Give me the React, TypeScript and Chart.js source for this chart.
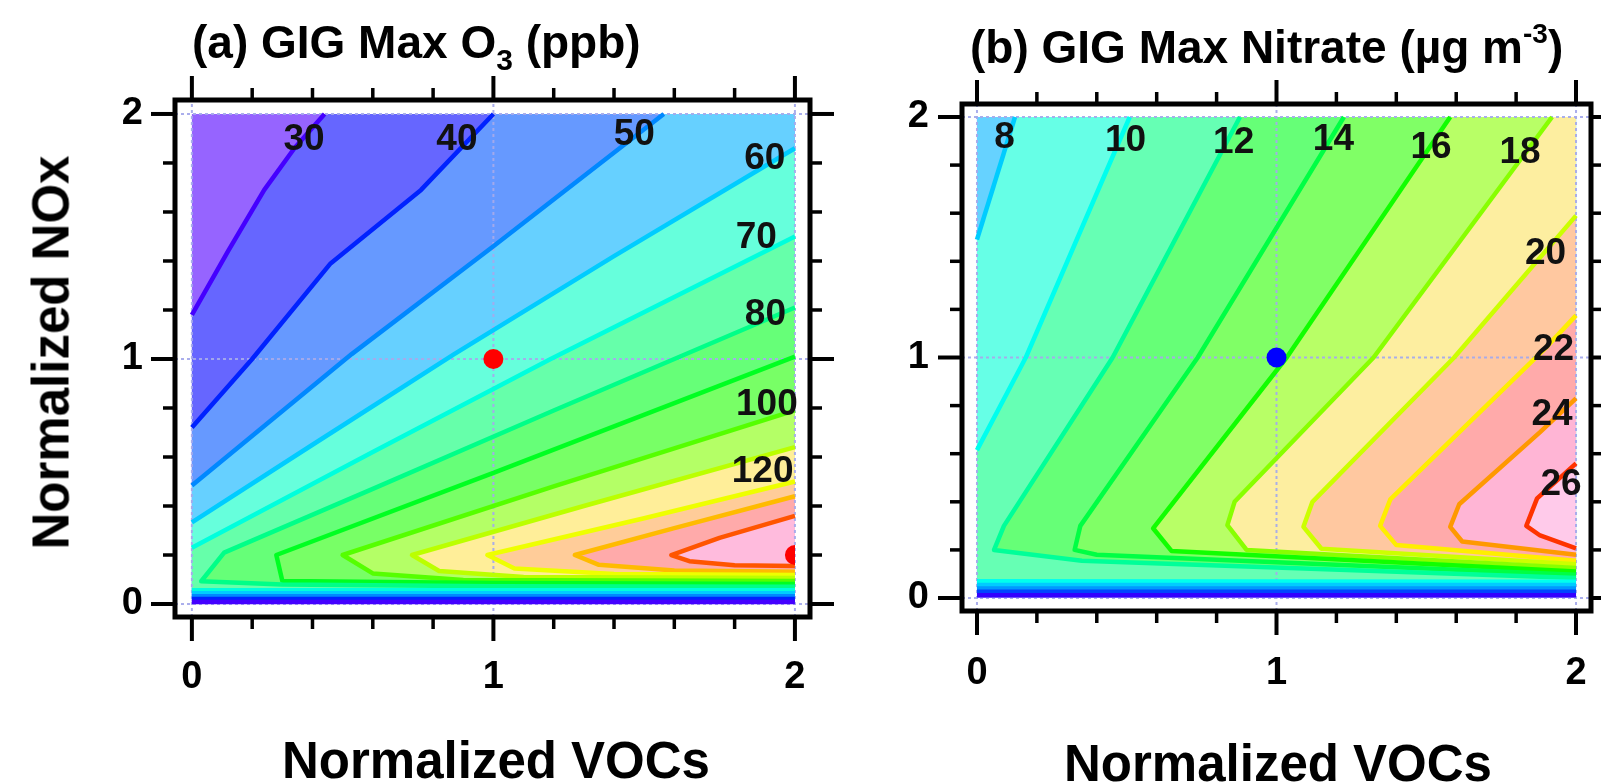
import React, { useEffect, useRef } from 'react';
import { Chart, registerables } from 'chart.js';

Chart.register(...registerables);

type P = [number, number];

const FONT = "'Liberation Sans', Arial, Helvetica, sans-serif";

// ---------- shared axis values ----------
const MAJOR_TICKS = [0, 1, 2];
const MINOR_TICKS = [0.2, 0.4, 0.6, 0.8, 1.2, 1.4, 1.6, 1.8];
const DATA_X: P = [0, 2];
const DATA_Y: P = [0, 2];
const GRID_COLOR = 'rgba(165,170,235,0.95)';

// ---------- panel (a): GIG max O3 ----------
const O3_X_RANGE: P = [-0.056, 2.05];
const O3_Y_RANGE: P = [-0.053, 2.057];
const O3_LEVELS = [30, 40, 50, 60, 70, 80, 90, 100, 110, 120, 130, 140];
const O3_LINE_COLORS = ['#4400ff', '#0022ff', '#0088ff', '#00ccff', '#00ffdd', '#00ff88', '#00ff22', '#55ff00', '#bbff00', '#eeff00', '#ffbb00', '#ff5500'];
const O3_BASE_FILL = '#9664ff';
const O3_FILL_COLORS = ['#6666ff', '#6699ff', '#66d0ff', '#66ffdc', '#66ffaa', '#66ff78', '#78ff66', '#b4ff66', '#ffee99', '#ffcc99', '#ffaaaa', '#ffbbdd'];
const O3_30: P[][] = [[[0, 1.18], [0.12, 1.44], [0.24, 1.69], [0.34, 1.86], [0.44, 2]], [[2, 0.008], [0, 0.008]]];
const O3_40: P[][] = [[[0, 0.72], [0.2, 1.0], [0.46, 1.39], [0.76, 1.69], [1.0, 2]], [[2, 0.02], [0, 0.02]]];
const O3_50: P[][] = [[[0, 0.484], [0.53, 1.02], [1.0, 1.46], [1.565, 2]], [[2, 0.032], [0, 0.032]]];
const O3_60: P[][] = [[[0, 0.333], [0.4, 0.65], [0.87, 1.02], [1.4, 1.42], [2, 1.86]], [[2, 0.044], [0, 0.044]]];
const O3_70: P[][] = [[[0, 0.23], [0.6, 0.62], [1.19, 1.0], [2, 1.5]], [[2, 0.056], [0, 0.056]]];
const O3_80: P[][] = [[[2, 0.07], [1.0, 0.073], [0.3, 0.08], [0.031, 0.093], [0.107, 0.21], [0.6, 0.47], [1.2, 0.79], [2, 1.21]]];
const O3_90: P[][] = [[[2, 0.082], [1.0, 0.086], [0.3, 0.094], [0.28, 0.2], [1.0, 0.535], [2, 1.01]]];
const O3_100: P[][] = [[[2, 0.094], [0.9, 0.098], [0.6, 0.125], [0.5, 0.2], [1.2, 0.48], [2, 0.79]]];
const O3_110: P[][] = [[[2, 0.106], [1.1, 0.11], [0.82, 0.135], [0.73, 0.2], [1.3, 0.4], [2, 0.64]]];
const O3_120: P[][] = [[[2, 0.118], [1.4, 0.122], [1.07, 0.145], [0.98, 0.2], [1.5, 0.35], [2, 0.5]]];
const O3_130: P[][] = [[[2, 0.132], [1.6, 0.137], [1.35, 0.16], [1.27, 0.2], [1.6, 0.31], [2, 0.44]]];
const O3_140: P[][] = [[[2, 0.155], [1.8, 0.158], [1.65, 0.175], [1.59, 0.2], [1.75, 0.27], [2, 0.36]]];
const O3_CONTOURS = [O3_30, O3_40, O3_50, O3_60, O3_70, O3_80, O3_90, O3_100, O3_110, O3_120, O3_130, O3_140];
const O3_LABEL_TEXT = ['30', '40', '50', '60', '70', '80', '100', '120'];
const O3_LABEL_X = [0.372, 0.879, 1.467, 1.9, 1.872, 1.902, 1.907, 1.893];
const O3_LABEL_Y = [1.896, 1.896, 1.914, 1.818, 1.496, 1.181, 0.812, 0.538];
const O3_DOT_X = [1];
const O3_DOT_Y = [1];
const O3_PEAK_X = [2];
const O3_PEAK_Y = [0.2];

// ---------- panel (b): GIG max nitrate ----------
const NO3_X_RANGE: P = [-0.05, 2.05];
const NO3_Y_RANGE: P = [-0.054, 2.054];
const NO3_LEVELS = [2, 4, 6, 8, 10, 12, 14, 16, 18, 20, 22, 24, 26];
const NO3_LINE_COLORS = ['#3300ff', '#0044ff', '#0099ff', '#00ccff', '#00ffee', '#00ff99', '#00ff44', '#11ff00', '#88ff00', '#ccff00', '#ffee00', '#ff9900', '#ff3300'];
const NO3_BASE_FILL = '#aa99ff';
const NO3_FILL_COLORS = ['#6677ff', '#6699ff', '#66d2ff', '#66ffe6', '#66ffb4', '#66ff77', '#80ff66', '#b8ff66', '#fdeea0', '#ffc8a0', '#ffaaaa', '#ffb5d5', '#ffcaea'];
const NO3_2: P[][] = [[[2, 0.012], [0, 0.012]]];
const NO3_4: P[][] = [[[2, 0.026], [0, 0.026]]];
const NO3_6: P[][] = [[[2, 0.04], [0, 0.04]]];
const NO3_8: P[][] = [[[0, 1.49], [0.127, 2]], [[2, 0.054], [0, 0.054]]];
const NO3_10: P[][] = [[[0, 0.615], [0.163, 1.0], [0.51, 2]], [[2, 0.068], [0, 0.07]]];
const NO3_12: P[][] = [[[2, 0.083], [0.35, 0.155], [0.057, 0.2], [0.09, 0.3], [0.453, 1.0], [0.878, 2]]];
const NO3_14: P[][] = [[[2, 0.097], [0.4, 0.18], [0.326, 0.2], [0.345, 0.3], [0.737, 1.0], [1.225, 2]]];
const NO3_16: P[][] = [[[2, 0.11], [0.65, 0.195], [0.588, 0.29], [1.034, 1.0], [1.58, 2]]];
const NO3_18: P[][] = [[[2, 0.125], [0.9, 0.2], [0.836, 0.303], [0.86, 0.4], [1.324, 1.0], [1.92, 2]]];
const NO3_20: P[][] = [[[2, 0.14], [1.15, 0.205], [1.09, 0.296], [1.12, 0.4], [1.593, 1.0], [2, 1.59]]];
const NO3_22: P[][] = [[[2, 0.155], [1.4, 0.22], [1.346, 0.3], [1.38, 0.41], [1.898, 1.039], [2, 1.175]]];
const NO3_24: P[][] = [[[2, 0.18], [1.62, 0.235], [1.58, 0.296], [1.61, 0.39], [1.88, 0.69], [2, 0.83]]];
const NO3_26: P[][] = [[[2, 0.206], [1.88, 0.26], [1.834, 0.3], [1.87, 0.414], [2, 0.56]]];
const NO3_CONTOURS = [NO3_2, NO3_4, NO3_6, NO3_8, NO3_10, NO3_12, NO3_14, NO3_16, NO3_18, NO3_20, NO3_22, NO3_24, NO3_26];
const NO3_LABEL_TEXT = ['8', '10', '12', '14', '16', '18', '20', '22', '24', '26'];
const NO3_LABEL_X = [0.092, 0.496, 0.857, 1.19, 1.516, 1.813, 1.898, 1.925, 1.92, 1.95];
const NO3_LABEL_Y = [1.914, 1.9, 1.893, 1.907, 1.872, 1.851, 1.432, 1.03, 0.76, 0.47];
const NO3_DOT_X = [1];
const NO3_DOT_Y = [1];

// closes a contour (made of one or more boundary-to-boundary parts) clockwise along the data box
function ring(parts: P[][]): P[] {
  const [x0, x1] = DATA_X;
  const [y0, y1] = DATA_Y;
  const W = x1 - x0, H = y1 - y0, PER = 2 * (W + H), e = 1e-9;
  const t = ([x, y]: P) =>
    Math.abs(y - y1) < e ? x - x0 :
    Math.abs(x - x1) < e ? W + (y1 - y) :
    Math.abs(y - y0) < e ? W + H + (x1 - x) :
    2 * W + H + (y - y0);
  const corners: [number, P][] = [[0, [x0, y1]], [W, [x1, y1]], [W + H, [x1, y0]], [2 * W + H, [x0, y0]]];
  const walk = (a: P, b: P): P[] => {
    const ta = t(a);
    let tb = t(b);
    if (tb <= ta) tb += PER;
    const out: P[] = [];
    for (let k = 0; k < 2; k++) {
      for (const [tc, pc] of corners) {
        const tt = tc + k * PER;
        if (tt > ta + e && tt < tb - e) out.push(pc);
      }
    }
    return out;
  };
  const out: P[] = [];
  parts.forEach((part, i) => {
    out.push(...part);
    const next = parts[(i + 1) % parts.length];
    out.push(...walk(part[part.length - 1], next[0]));
  });
  return out;
}

const xy = (a: P[]) => a.map(([x, y]) => ({ x, y }));

interface PanelSpec {
  canvasW: number;
  area: { left: number; top: number; right: number; bottom: number };
  xRange: P;
  yRange: P;
  levels: number[];
  contours: P[][][];
  lineColors: string[];
  fillColors: string[];
  baseFill: string;
  labelText: string[];
  labelX: number[];
  labelY: number[];
  dotColor: string;
  dotX: number[];
  dotY: number[];
  peakX: number[];
  peakY: number[];
  xPad: number;
  yPad: number;
}

function makeConfig(p: PanelSpec): any {
  const ds: any[] = [];
  const base = { borderWidth: 0, pointRadius: 0, pointHoverRadius: 0, fill: 'shape' };
  ds.push({
    ...base,
    data: xy([[DATA_X[0], DATA_Y[0]], [DATA_X[1], DATA_Y[0]], [DATA_X[1], DATA_Y[1]], [DATA_X[0], DATA_Y[1]]]),
    backgroundColor: p.baseFill,
    order: 1000,
  });
  p.contours.forEach((c, i) => {
    ds.push({ ...base, label: 'fill ' + p.levels[i], data: xy(ring(c)), backgroundColor: p.fillColors[i], order: 900 - i });
  });
  MAJOR_TICKS.forEach((v) => {
    const g = { borderColor: GRID_COLOR, borderWidth: 2, borderDash: [3, 3], fill: false, pointRadius: 0, pointHoverRadius: 0, order: 60 };
    ds.push({ ...g, data: xy([[v, p.yRange[0]], [v, p.yRange[1]]]) });
    ds.push({ ...g, data: xy([[p.xRange[0], v], [p.xRange[1], v]]) });
  });
  p.contours.forEach((c, i) => {
    c.forEach((part) => {
      ds.push({
        label: String(p.levels[i]),
        data: xy(part),
        borderColor: p.lineColors[i],
        borderWidth: 4.5,
        borderJoinStyle: 'round',
        fill: false,
        pointRadius: 0,
        pointHoverRadius: 0,
        order: 50,
      });
    });
  });
  ds.push({
    data: p.dotX.map((x, i) => ({ x, y: p.dotY[i] })),
    showLine: false,
    pointRadius: 10,
    pointBackgroundColor: p.dotColor,
    pointBorderColor: p.dotColor,
    pointBorderWidth: 0,
    order: 0,
  });
  if (p.peakX.length) {
    const areaW = p.area.right - p.area.left;
    const clipRight = -Math.round((areaW * (p.xRange[1] - DATA_X[1])) / (p.xRange[1] - p.xRange[0]));
    ds.push({
      data: p.peakX.map((x, i) => ({ x, y: p.peakY[i] })),
      showLine: false,
      pointRadius: 10,
      pointBackgroundColor: '#ff0000',
      pointBorderColor: '#ff0000',
      pointBorderWidth: 0,
      clip: { left: false, top: false, right: clipRight, bottom: false },
      order: 1,
    });
  }

  const decor = {
    id: 'contourDecor',
    afterDatasetsDraw(chart: any) {
      const { ctx, scales } = chart;
      ctx.save();
      ctx.font = `bold 37px ${FONT}`;
      ctx.fillStyle = '#111';
      ctx.textAlign = 'center';
      ctx.textBaseline = 'middle';
      p.labelText.forEach((t, i) => {
        ctx.fillText(t, scales.x.getPixelForValue(p.labelX[i]), scales.y.getPixelForValue(p.labelY[i]));
      });
      ctx.restore();
    },
    afterDraw(chart: any) {
      const { ctx, chartArea: a, scales } = chart;
      ctx.save();
      ctx.strokeStyle = '#000';
      ctx.lineWidth = 5;
      ctx.strokeRect(a.left, a.top, a.right - a.left, a.bottom - a.top);
      const seg = (x1: number, y1: number, x2: number, y2: number) => {
        ctx.beginPath();
        ctx.moveTo(x1, y1);
        ctx.lineTo(x2, y2);
        ctx.stroke();
      };
      const all: [number, number, number][] = [
        ...MAJOR_TICKS.map((v) => [v, 24, 4] as [number, number, number]),
        ...MINOR_TICKS.map((v) => [v, 12, 3.5] as [number, number, number]),
      ];
      for (const [v, len, w] of all) {
        ctx.lineWidth = w;
        const px = scales.x.getPixelForValue(v);
        seg(px, a.bottom, px, a.bottom + len);
        seg(px, a.top, px, a.top - len);
        const py = scales.y.getPixelForValue(v);
        seg(a.left, py, a.left - len, py);
        seg(a.right, py, a.right + len, py);
      }
      ctx.restore();
    },
  };

  const tickFont = { family: FONT, size: 38, weight: 'bold' };
  return {
    type: 'line',
    data: { datasets: ds },
    options: {
      responsive: false,
      maintainAspectRatio: false,
      animation: false,
      events: [],
      layout: { padding: { left: 0, top: p.area.top, right: p.canvasW - p.area.right, bottom: 0 } },
      plugins: { legend: { display: false }, tooltip: { enabled: false }, title: { display: false } },
      scales: {
        x: {
          type: 'linear',
          position: 'bottom',
          min: p.xRange[0],
          max: p.xRange[1],
          grid: { display: false, drawTicks: false },
          border: { display: false },
          ticks: { color: '#000', font: tickFont, padding: p.xPad, maxRotation: 0, autoSkip: false },
          afterBuildTicks: (s: any) => { s.ticks = MAJOR_TICKS.map((v) => ({ value: v })); },
          afterFit: (s: any) => {
            s.height = 782 - p.area.bottom;
            s.paddingLeft = 0;
            s.paddingRight = 0;
          },
        },
        y: {
          type: 'linear',
          position: 'left',
          min: p.yRange[0],
          max: p.yRange[1],
          grid: { display: false, drawTicks: false },
          border: { display: false },
          ticks: { color: '#000', font: tickFont, padding: p.yPad, autoSkip: false },
          afterBuildTicks: (s: any) => { s.ticks = MAJOR_TICKS.map((v) => ({ value: v })); },
          afterFit: (s: any) => {
            s.width = p.area.left;
            s.paddingTop = 0;
            s.paddingBottom = 0;
          },
        },
      },
    },
    plugins: [decor],
  };
}

const CANVAS_A_W = 880;
const CANVAS_B_LEFT = 880;
const CANVAS_B_W = 721;

const PANEL_A: PanelSpec = {
  canvasW: CANVAS_A_W,
  area: { left: 175, top: 100, right: 810, bottom: 617 },
  xRange: O3_X_RANGE,
  yRange: O3_Y_RANGE,
  levels: O3_LEVELS,
  contours: O3_CONTOURS,
  lineColors: O3_LINE_COLORS,
  fillColors: O3_FILL_COLORS,
  baseFill: O3_BASE_FILL,
  labelText: O3_LABEL_TEXT,
  labelX: O3_LABEL_X,
  labelY: O3_LABEL_Y,
  dotColor: '#ff0000',
  dotX: O3_DOT_X,
  dotY: O3_DOT_Y,
  peakX: O3_PEAK_X,
  peakY: O3_PEAK_Y,
  xPad: 38,
  yPad: 32,
};

const PANEL_B: PanelSpec = {
  canvasW: CANVAS_B_W,
  area: { left: 962 - CANVAS_B_LEFT, top: 104, right: 1595 - CANVAS_B_LEFT, bottom: 611 },
  xRange: NO3_X_RANGE,
  yRange: NO3_Y_RANGE,
  levels: NO3_LEVELS,
  contours: NO3_CONTOURS,
  lineColors: NO3_LINE_COLORS,
  fillColors: NO3_FILL_COLORS,
  baseFill: NO3_BASE_FILL,
  labelText: NO3_LABEL_TEXT,
  labelX: NO3_LABEL_X,
  labelY: NO3_LABEL_Y,
  dotColor: '#0000ff',
  dotX: NO3_DOT_X,
  dotY: NO3_DOT_Y,
  peakX: [],
  peakY: [],
  xPad: 40,
  yPad: 33,
};

export default function App() {
  const refA = useRef<HTMLCanvasElement>(null);
  const refB = useRef<HTMLCanvasElement>(null);

  useEffect(() => {
    const a = new Chart(refA.current as HTMLCanvasElement, makeConfig(PANEL_A));
    const b = new Chart(refB.current as HTMLCanvasElement, makeConfig(PANEL_B));
    return () => {
      a.destroy();
      b.destroy();
    };
  }, []);

  const titleStyle: React.CSSProperties = {
    position: 'absolute',
    font: `bold 46px ${FONT}`,
    lineHeight: '46px',
    whiteSpace: 'nowrap',
    color: '#000',
  };
  const axisStyle: React.CSSProperties = {
    position: 'absolute',
    font: `bold 51px ${FONT}`,
    lineHeight: '51px',
    height: 51,
    width: 600,
    textAlign: 'center',
    whiteSpace: 'nowrap',
    color: '#000',
  };

  return (
    <div style={{ position: 'fixed', left: 0, top: 0, width: 1601, height: 782, background: '#fff', overflow: 'hidden' }}>
      <canvas ref={refA} width={CANVAS_A_W} height={782} style={{ position: 'absolute', left: 0, top: 0 }} />
      <canvas ref={refB} width={CANVAS_B_W} height={782} style={{ position: 'absolute', left: CANVAS_B_LEFT, top: 0 }} />
      <div style={{ ...titleStyle, left: 192, top: 19 }}>
        (a) GIG Max O<span style={{ fontSize: 30, position: 'relative', top: 12 }}>3</span> (ppb)
      </div>
      <div style={{ ...titleStyle, left: 970, top: 24 }}>
        (b) GIG Max Nitrate (µg m<span style={{ fontSize: 28, position: 'relative', top: -20 }}>-3</span>)
      </div>
      <div style={{ ...axisStyle, left: 496 - 300, top: 735 }}>Normalized VOCs</div>
      <div style={{ ...axisStyle, left: 1278 - 300, top: 738 }}>Normalized VOCs</div>
      <div style={{ ...axisStyle, width: 500, left: 51 - 250, top: 352 - 25.5, transform: 'rotate(-90deg)' }}>Normalized NOx</div>
    </div>
  );
}
